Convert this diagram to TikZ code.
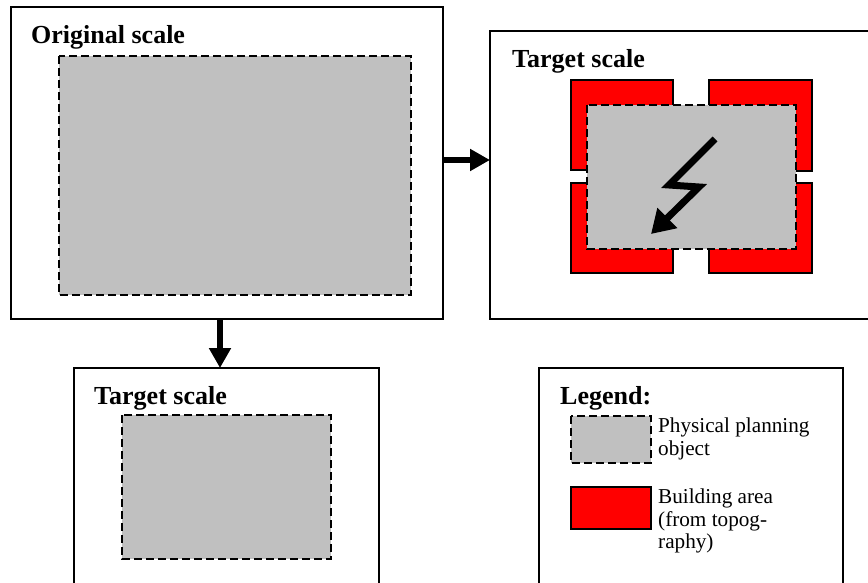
\documentclass[tikz,border=0pt]{standalone}
\usepackage{fontspec}
\setmainfont{Liberation Serif}
\usetikzlibrary{arrows.meta}
\definecolor{objgray}{HTML}{C0C0C0}
\definecolor{bldred}{HTML}{FF0000}
\tikzset{
  frame/.style={draw=black, line width=1.6pt, fill=white, inner sep=0pt, outer sep=0pt},
  planobj/.style={draw=black, fill=objgray, line width=1.6pt, dash pattern=on 8pt off 4pt},
  building/.style={draw=black, fill=bldred, line width=1.4pt},
  title/.style={font=\bfseries\fontsize{26}{30}\selectfont, anchor=base west, inner sep=0pt},
  legtext/.style={font=\fontsize{21.2}{23}\selectfont, anchor=base west, inner sep=0pt},
  flow/.style={line width=6pt, -{Triangle[length=20pt, width=21pt]}},
  bolt/.style={line width=7pt, line join=miter, -{Triangle[length=23pt, width=27pt]}},
}
\begin{document}
\begin{tikzpicture}[x=1pt, y=-1pt]
\useasboundingbox (0,0) rectangle (868,583);
\clip (0,0) rectangle (868,583);

% original scale
\draw[frame] (10.7,7) rectangle (443,319);
\coordinate (b1e) at (443,160);
\coordinate (b1s) at (220,319);
\draw[planobj] (59,56) rectangle (411,295);
\node[title] (t1) at (31,44) {Original scale};

% target scale, displaced object
\draw[frame] (490,31) rectangle (900,319);
\coordinate (b2w) at (490,160);
\draw[building] (571,80) rectangle (673,170);
\draw[building] (709,80) rectangle (812,171);
\draw[building] (571,183) rectangle (673,273);
\draw[building] (709,183) rectangle (812,273);
\draw[planobj] (587,105) rectangle (796,249);
\node[title] (t2) at (512,68) {Target scale};
\coordinate (z0) at (715,139);
\coordinate (z1) at (669,185);
\coordinate (z2) at (699,187);
\coordinate (z3) at (651,234);
\draw[bolt] (z0) -- (z1) -- (z2) -- (z3);

% target scale, reduced object
\draw[frame] (74,368) rectangle (379,600);
\coordinate (b3n) at (220,368);
\draw[planobj] (122,415) rectangle (331,559);
\node[title] (t3) at (94,404) {Target scale};

% legend
\draw[frame] (539,368) rectangle (843,600);
\node[title] (lg) at (560,404) {Legend:};
\draw[planobj] (571,416) rectangle (651,463);
\node[legtext] (l1a) at (658,432) {Physical planning};
\node[legtext] (l1b) at (658,455) {object};
\draw[building] (571,487) rectangle (651,529);
\node[legtext] (l2a) at (658,503) {Building area};
\node[legtext] (l2b) at (658,526) {(from topog-};
\node[legtext] (l2c) at (658,548) {raphy)};

% connectors
\draw[flow] (b1e) -- (b2w);
\draw[flow] (b1s) -- (b3n);
\end{tikzpicture}
\end{document}
